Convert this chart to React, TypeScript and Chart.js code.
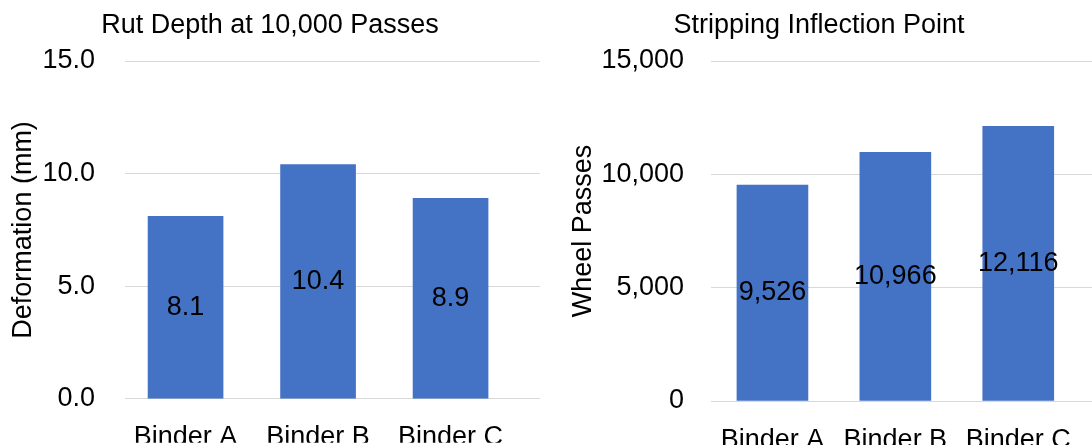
import React, { useEffect, useRef } from "react";
import { Chart, registerables } from "chart.js";

Chart.register(...registerables);

// Categories and series
const binders = ["Binder A", "Binder B", "Binder C"];
const rutDepthMm = [8.1, 10.4, 8.9];
const strippingPasses = [9526, 10966, 12116];

// Value-axis ranges
const rutAxis = { max: 15, step: 5 };
const passAxis = { max: 15000, step: 5000 };

const FONT = "'Liberation Sans', Arial, sans-serif";
const FONT_SIZE = 27;
const BAR_BLUE = "#4472C4";
const GRID = "#d9d9d9";

// Writes each bar's value in the middle of the bar
const barValueLabels = {
  id: "barValueLabels",
  afterDatasetsDraw(chart: any, _args: any, opts: any) {
    const { ctx } = chart;
    const meta = chart.getDatasetMeta(0);
    const values = chart.data.datasets[0].data as any[];
    ctx.save();
    ctx.font = `${FONT_SIZE}px ${FONT}`;
    ctx.fillStyle = "#000";
    ctx.textAlign = "center";
    ctx.textBaseline = "middle";
    meta.data.forEach((bar: any, i: number) => {
      const v = values[i].y;
      ctx.fillText(opts.format(v), bar.x, (bar.y + bar.base) / 2);
    });
    ctx.restore();
  },
};

type PanelProps = {
  title: string;
  axisTitle: string;
  values: number[];
  yMax: number;
  yStep: number;
  xMin: number;
  xMax: number;
  barThickness: number;
  yAxisWidth: number;
  yTickPadding: number;
  yTitlePadding: number;
  rightPadding: number;
  tickFormat: (v: number) => string;
  labelFormat: (v: number) => string;
};

function BarPanel(p: PanelProps) {
  const ref = useRef<HTMLCanvasElement>(null);

  useEffect(() => {
    const chart = new Chart(ref.current!, {
      type: "bar",
      data: {
        datasets: [
          {
            data: binders.map((_, i) => ({ x: i, y: p.values[i] })),
            backgroundColor: BAR_BLUE,
            borderWidth: 0,
            barThickness: p.barThickness,
          },
        ],
      },
      options: {
        responsive: false,
        animation: false,
        layout: { padding: { left: 0, right: p.rightPadding, top: 0, bottom: 0 } },
        plugins: {
          legend: { display: false },
          tooltip: { enabled: false },
          title: {
            display: true,
            text: p.title,
            color: "#000",
            font: { family: FONT, size: FONT_SIZE, weight: "normal" },
            padding: { top: 9, bottom: 19.6 },
          },
          barValueLabels: { format: p.labelFormat },
        } as any,
        scales: {
          x: {
            type: "linear",
            min: p.xMin,
            max: p.xMax,
            offset: false,
            bounds: "data",
            grid: { display: false, offset: false },
            border: { display: false },
            afterBuildTicks: (s: any) => {
              s.ticks = binders.map((_, i) => ({ value: i }));
            },
            ticks: {
              autoSkip: false,
              maxRotation: 0,
              padding: 15,
              color: "#000",
              font: { family: FONT, size: FONT_SIZE },
              callback: (v: any) => binders[Math.round(Number(v))] ?? "",
            },
            afterFit: (s: any) => {
              s.height = 44;
            },
          },
          y: {
            min: 0,
            max: p.yMax,
            grid: { color: GRID, lineWidth: 1, drawTicks: false },
            border: { display: false },
            ticks: {
              stepSize: p.yStep,
              padding: p.yTickPadding,
              color: "#000",
              font: { family: FONT, size: FONT_SIZE },
              callback: (v: any) => p.tickFormat(Number(v)),
            },
            title: {
              display: true,
              text: p.axisTitle,
              color: "#000",
              font: { family: FONT, size: FONT_SIZE },
              padding: { top: p.yTitlePadding, bottom: 0 },
            },
            afterFit: (s: any) => {
              s.width = p.yAxisWidth;
            },
          },
        },
      } as any,
      plugins: [barValueLabels],
    });
    return () => chart.destroy();
  }, []);

  return <canvas ref={ref} width={546} height={445} style={{ display: "block", width: 546, height: 445 }} />;
}

export default function App() {
  return (
    <div
      style={{
        position: "absolute",
        left: 0,
        top: 0,
        width: 1092,
        height: 445,
        display: "flex",
        background: "#fff",
        overflow: "hidden",
      }}
    >
      <BarPanel
        title="Rut Depth at 10,000 Passes"
        axisTitle="Deformation (mm)"
        values={rutDepthMm}
        yMax={rutAxis.max}
        yStep={rutAxis.step}
        xMin={-0.457}
        xMax={2.675}
        barThickness={75}
        yAxisWidth={125}
        yTickPadding={30}
        yTitlePadding={7}
        rightPadding={6}
        tickFormat={(v) => v.toFixed(1)}
        labelFormat={(v) => v.toFixed(1)}
      />
      <BarPanel
        title="Stripping Inflection Point"
        axisTitle="Wheel Passes"
        values={strippingPasses}
        yMax={passAxis.max}
        yStep={passAxis.step}
        xMin={-0.5}
        xMax={2.6}
        barThickness={71}
        yAxisWidth={165}
        yTickPadding={27}
        yTitlePadding={21}
        rightPadding={0}
        tickFormat={(v) => v.toLocaleString("en-US")}
        labelFormat={(v) => v.toLocaleString("en-US")}
      />
    </div>
  );
}
